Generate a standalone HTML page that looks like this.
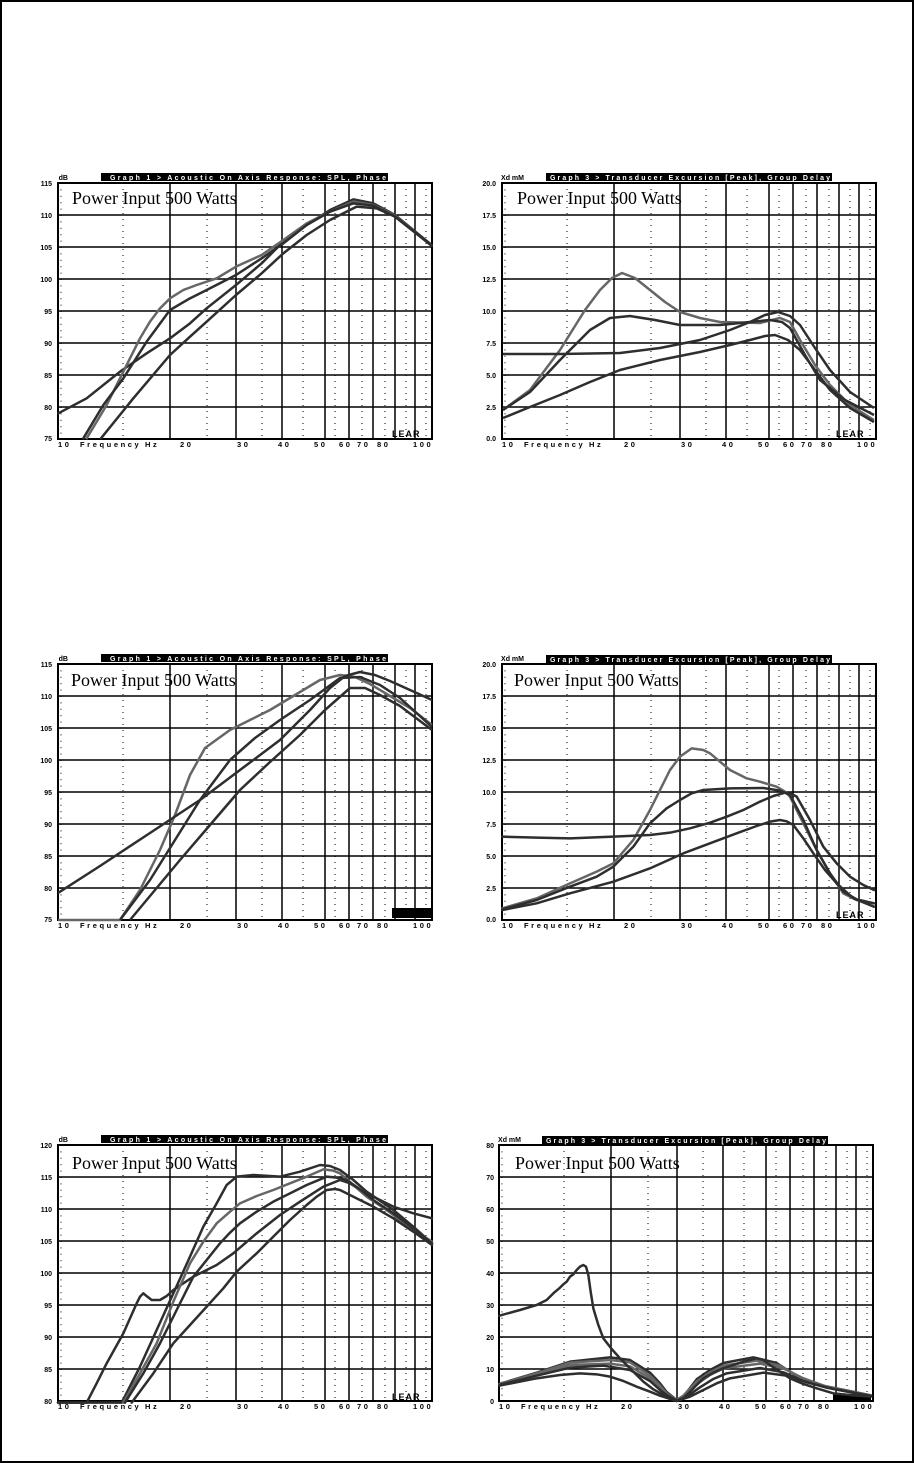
<!DOCTYPE html>
<html><head><meta charset="utf-8"><style>
html,body{margin:0;padding:0;background:#fff}
svg{display:block}
.yl{font:bold 7px "Liberation Sans",sans-serif;fill:#000;text-anchor:end}
.xl{font:bold 7.5px "Liberation Sans",sans-serif;fill:#000;letter-spacing:2.6px}
.hd{font:bold 7px "Liberation Sans",sans-serif;fill:#fff}
.pw{font:18px "Liberation Serif",serif;fill:#000}
.c1{fill:none;stroke:#2e2e2e;stroke-width:7.5;stroke-linejoin:round;stroke-linecap:round}
.c2{fill:none;stroke:#666;stroke-width:7.5;stroke-linejoin:round;stroke-linecap:round}
.p1{fill:none;stroke:#2e2e2e;stroke-width:2.5;stroke-linejoin:round}
.p2{fill:none;stroke:#666;stroke-width:2.5;stroke-linejoin:round}
.lear{font:bold 9px "Liberation Sans",sans-serif;fill:#000;letter-spacing:1px}
</style></head><body>
<svg width="914" height="1463" viewBox="0 0 914 1463" xmlns="http://www.w3.org/2000/svg">
<defs>
<g id="grid">
<rect x="0" y="0" width="374" height="256" fill="#fff"/>
<g stroke="#000" stroke-width="1.5">
<line x1="0" y1="32" x2="374" y2="32"/><line x1="0" y1="64" x2="374" y2="64"/><line x1="0" y1="96" x2="374" y2="96"/><line x1="0" y1="128" x2="374" y2="128"/><line x1="0" y1="160" x2="374" y2="160"/><line x1="0" y1="192" x2="374" y2="192"/><line x1="0" y1="224" x2="374" y2="224"/>
<line x1="112" y1="0" x2="112" y2="256"/><line x1="178" y1="0" x2="178" y2="256"/><line x1="224" y1="0" x2="224" y2="256"/><line x1="267" y1="0" x2="267" y2="256"/><line x1="291" y1="0" x2="291" y2="256"/><line x1="315" y1="0" x2="315" y2="256"/><line x1="337" y1="0" x2="337" y2="256"/><line x1="357" y1="0" x2="357" y2="256"/>
</g>
<g stroke="#000" stroke-width="1" stroke-dasharray="1 5">
<line x1="65" y1="0" x2="65" y2="256"/><line x1="149" y1="0" x2="149" y2="256"/><line x1="204" y1="0" x2="204" y2="256"/><line x1="245" y1="0" x2="245" y2="256"/><line x1="277" y1="0" x2="277" y2="256"/><line x1="304" y1="0" x2="304" y2="256"/><line x1="327" y1="0" x2="327" y2="256"/><line x1="348" y1="0" x2="348" y2="256"/><line x1="368" y1="0" x2="368" y2="256"/>
<line x1="3" y1="0" x2="3" y2="256" stroke-dasharray="1 5.4"/>
</g>
<rect x="0" y="0" width="374" height="256" fill="none" stroke="#000" stroke-width="2"/>
</g>
</defs>
<rect x="1" y="1" width="912" height="1461" fill="none" stroke="#000" stroke-width="2"/>

<use href="#grid" x="58" y="183"/>
<use href="#grid" x="502" y="183"/>
<use href="#grid" x="58" y="664"/>
<use href="#grid" x="502" y="664"/>
<use href="#grid" x="58" y="1145"/>
<use href="#grid" x="499" y="1145"/>

<rect x="101" y="173" width="287" height="8" fill="#000"/><text class="hd" x="110" y="180" textLength="276" lengthAdjust="spacing">Graph 1 &gt; Acoustic On Axis Response: SPL, Phase</text>
<rect x="546" y="173" width="286" height="8" fill="#000"/><text class="hd" x="550" y="180" textLength="280" lengthAdjust="spacing">Graph 3 &gt; Transducer Excursion [Peak], Group Delay</text>
<rect x="101" y="654" width="287" height="8" fill="#000"/><text class="hd" x="110" y="661" textLength="276" lengthAdjust="spacing">Graph 1 &gt; Acoustic On Axis Response: SPL, Phase</text>
<rect x="546" y="655" width="286" height="8" fill="#000"/><text class="hd" x="550" y="662" textLength="280" lengthAdjust="spacing">Graph 3 &gt; Transducer Excursion [Peak], Group Delay</text>
<rect x="101" y="1135" width="287" height="8" fill="#000"/><text class="hd" x="110" y="1142" textLength="276" lengthAdjust="spacing">Graph 1 &gt; Acoustic On Axis Response: SPL, Phase</text>
<rect x="542" y="1136" width="286" height="8" fill="#000"/><text class="hd" x="546" y="1143" textLength="280" lengthAdjust="spacing">Graph 3 &gt; Transducer Excursion [Peak], Group Delay</text>

<text class="yl" x="68" y="180">dB</text><text class="yl" x="524" y="180">Xd mM</text>
<text class="yl" x="68" y="661">dB</text><text class="yl" x="524" y="661">Xd mM</text>
<text class="yl" x="68" y="1142">dB</text><text class="yl" x="521" y="1142">Xd mM</text>

<g class="yl">
<text x="52" y="186">115</text><text x="52" y="218">110</text><text x="52" y="250">105</text><text x="52" y="282">100</text><text x="52" y="314">95</text><text x="52" y="346">90</text><text x="52" y="378">85</text><text x="52" y="410">80</text><text x="52" y="441">75</text>
<text x="496" y="186">20.0</text><text x="496" y="218">17.5</text><text x="496" y="250">15.0</text><text x="496" y="282">12.5</text><text x="496" y="314">10.0</text><text x="496" y="346">7.5</text><text x="496" y="378">5.0</text><text x="496" y="410">2.5</text><text x="496" y="441">0.0</text>
<text x="52" y="667">115</text><text x="52" y="699">110</text><text x="52" y="731">105</text><text x="52" y="763">100</text><text x="52" y="795">95</text><text x="52" y="827">90</text><text x="52" y="859">85</text><text x="52" y="891">80</text><text x="52" y="922">75</text>
<text x="496" y="667">20.0</text><text x="496" y="699">17.5</text><text x="496" y="731">15.0</text><text x="496" y="763">12.5</text><text x="496" y="795">10.0</text><text x="496" y="827">7.5</text><text x="496" y="859">5.0</text><text x="496" y="891">2.5</text><text x="496" y="922">0.0</text>
<text x="52" y="1148">120</text><text x="52" y="1180">115</text><text x="52" y="1212">110</text><text x="52" y="1244">105</text><text x="52" y="1276">100</text><text x="52" y="1308">95</text><text x="52" y="1340">90</text><text x="52" y="1372">85</text><text x="52" y="1404">80</text>
<text x="494" y="1148">80</text><text x="494" y="1180">70</text><text x="494" y="1212">60</text><text x="494" y="1244">50</text><text x="494" y="1276">40</text><text x="494" y="1308">30</text><text x="494" y="1340">20</text><text x="494" y="1372">10</text><text x="494" y="1404">0</text>
</g>

<g id="xl1" class="xl">
<text x="58" y="447">10</text><text x="80" y="447">Frequency</text><text x="145" y="447">Hz</text><text x="180" y="447">20</text><text x="237" y="447">30</text><text x="278" y="447">40</text><text x="314" y="447">50</text><text x="339" y="447">60</text><text x="357" y="447">70</text><text x="377" y="447">80</text><text x="413" y="447">100</text>
</g>
<use href="#xl1" x="444" y="0"/>
<use href="#xl1" x="0" y="481"/>
<use href="#xl1" x="444" y="481"/>
<use href="#xl1" x="0" y="962"/>
<use href="#xl1" x="441" y="962"/>

<text class="pw" x="72" y="204">Power Input 500 Watts</text>
<text class="pw" x="517" y="204">Power Input 500 Watts</text>
<text class="pw" x="71" y="686">Power Input 500 Watts</text>
<text class="pw" x="514" y="686">Power Input 500 Watts</text>
<text class="pw" x="72" y="1169">Power Input 500 Watts</text>
<text class="pw" x="515" y="1169">Power Input 500 Watts</text>

<text class="lear" x="392" y="437">LEAR</text>
<text class="lear" x="836" y="437">LEAR</text>
<rect x="392" y="908" width="40" height="10" fill="#000"/>
<text class="lear" x="836" y="918">LEAR</text>
<text class="lear" x="392" y="1400">LEAR</text>
<rect x="833" y="1394" width="38" height="6" fill="#000"/>

<g transform="translate(40,165) scale(0.33333)">
<polyline class="c1" points="55,745 140,700 240,620 320,565 390,520 450,475 500,430 588,360 665,295 730,230 800,180 870,135 940,103 1000,115 1065,150 1120,195 1175,240"/>
<polyline class="c2" points="140,820 200,720 250,620 300,520 330,470 360,430 390,400 430,375 470,360 530,340 588,305 665,270 730,225 800,175 870,140 940,110 1000,120 1065,152 1175,242"/>
<polyline class="c1" points="130,820 190,720 250,640 320,530 390,435 450,400 500,375 588,330 665,280 730,235 800,180 870,140 940,115 1000,122 1065,155 1175,242"/>
<polyline class="c1" points="183,820 280,700 390,570 450,515 500,470 588,390 665,325 730,265 800,210 870,165 950,125 1010,130 1065,155 1175,242"/>
</g>

<polyline class="p2" points="503,410 530,390 560,350 585,310 600,290 612,278 622,273 635,278 650,290 665,302 680,312 700,318 720,322 760,323 780,318 790,322 800,340 815,365 830,385 850,405 874,420"/>
<polyline class="p1" points="503,410 530,392 560,360 590,330 610,318 630,316 655,320 680,325 720,325 750,322 770,320 782,322 790,328 805,355 820,380 845,400 874,415"/>
<polyline class="p1" points="503,354 560,354 620,353 660,348 700,340 730,330 750,322 765,315 778,312 790,316 800,325 815,348 830,370 850,392 874,408"/>
<polyline class="p1" points="503,418 530,407 560,395 590,382 620,370 660,360 700,352 730,345 750,340 765,336 775,335 788,340 800,350 815,370 830,390 850,408 874,422"/>

<polyline class="p2" points="58,920 120,920 140,890 160,850 175,815 190,775 205,748 230,730 250,720 270,710 295,695 320,680 340,675 355,677 370,684 385,693 410,708 432,725"/>
<polyline class="p1" points="58,893 100,866 150,833 200,800 240,770 280,740 310,710 330,688 345,676 360,672 375,675 390,681 410,690 432,700"/>
<polyline class="p1" points="120,920 150,880 175,840 200,800 230,760 255,738 280,720 310,700 340,678 360,677 380,685 400,698 432,727"/>
<polyline class="p1" points="130,920 155,890 180,860 210,825 240,790 270,762 300,735 325,710 350,688 365,688 380,695 400,706 432,730"/>

<g transform="translate(470,650) scale(0.33333)">
<polyline class="c2" points="97,775 200,745 300,700 380,665 430,640 490,570 540,480 575,410 600,360 630,320 665,295 700,300 720,310 750,335 780,360 830,385 870,395 920,410 945,425 960,440 1000,520 1040,600 1080,670 1120,730 1160,750 1212,760"/>
<polyline class="c1" points="97,778 200,750 300,710 380,680 430,650 490,590 540,520 590,475 630,450 665,430 700,420 780,415 880,414 930,422 960,435 1000,510 1040,600 1080,670 1120,725 1160,748 1212,760"/>
<polyline class="c1" points="97,560 200,563 300,565 430,560 540,555 600,548 660,535 720,518 770,500 820,480 870,455 910,438 945,428 965,432 980,440 1020,510 1060,590 1100,640 1140,680 1180,705 1212,720"/>
<polyline class="c1" points="97,780 200,760 300,730 430,695 540,655 640,610 720,580 800,550 860,528 900,515 930,510 950,514 970,525 1000,565 1030,610 1065,660 1100,700 1150,745 1212,770"/>
</g>

<g transform="translate(40,1130) scale(0.33333)">
<polyline class="c1" points="54,818 140,818 170,760 200,700 225,655 250,610 270,565 290,520 300,500 310,490 322,500 335,510 360,510 380,498 400,480 430,460 460,440 530,405 580,370 650,310 720,255 780,215 850,170 900,150 930,160 960,180 1010,205 1060,230 1120,250 1176,265"/>
<polyline class="c1" points="54,818 245,818 300,710 350,600 400,490 450,380 490,290 530,220 560,165 590,140 640,135 720,140 780,125 840,105 870,108 900,120 940,150 980,185 1020,212 1060,240 1120,290 1176,340"/>
<polyline class="c2" points="250,818 300,730 350,640 400,515 450,400 490,335 530,280 570,245 600,220 650,198 700,180 750,160 800,140 850,118 880,122 900,130 940,165 980,200 1040,240 1100,285 1176,335"/>
<polyline class="c1" points="255,818 310,730 360,640 410,540 460,440 500,390 540,340 570,308 600,280 650,245 700,215 750,190 800,165 860,140 890,143 920,150 960,178 1000,210 1060,250 1120,295 1176,340"/>
<polyline class="c1" points="275,818 340,730 400,640 450,585 500,530 550,475 590,425 650,370 700,320 750,270 800,225 830,200 860,180 885,177 900,180 950,205 1000,230 1060,265 1120,305 1176,345"/>
</g>

<g transform="translate(470,1125) scale(0.33333)">
<polyline class="c1" points="88,777 200,743 300,710 420,697 480,705 540,743 570,775 590,801 620,825 640,815 680,763 720,735 760,714 850,697 920,714 980,753 1060,782 1203,811"/>
<polyline class="c2" points="88,778 200,745 300,713 420,705 480,712 540,752 570,782 590,805 620,825 640,812 680,770 720,742 760,722 860,707 930,722 990,757 1060,783 1203,812"/>
<polyline class="c2" points="88,779 200,750 300,720 420,716 480,724 540,760 570,790 590,808 620,826 640,816 680,778 720,750 760,730 870,716 940,730 1000,760 1070,785 1203,812"/>
<polyline class="c1" points="88,780 200,752 300,728 400,722 480,735 540,768 570,795 590,810 620,827 650,815 690,787 730,762 770,745 870,729 940,742 1000,768 1070,788 1203,813"/>
<polyline class="c1" points="88,782 200,760 270,750 330,745 380,748 420,755 460,768 500,785 540,800 570,812 620,828 660,815 700,795 740,775 780,760 880,743 950,752 1010,772 1080,790 1203,814"/>
<polyline class="c1" points="88,572 150,555 200,540 230,525 250,505 270,488 280,478 290,470 300,455 310,448 320,435 330,425 340,420 348,425 355,450 362,500 370,550 385,600 400,640 425,672 450,700 485,735 520,770 550,793 580,810 600,820 620,828 640,820 670,790 700,760 730,743 760,730 820,710 860,700 880,705 900,720 930,740 960,760 1000,777 1040,790 1090,805 1150,811 1203,815"/>
</g>
</svg>
</body></html>
